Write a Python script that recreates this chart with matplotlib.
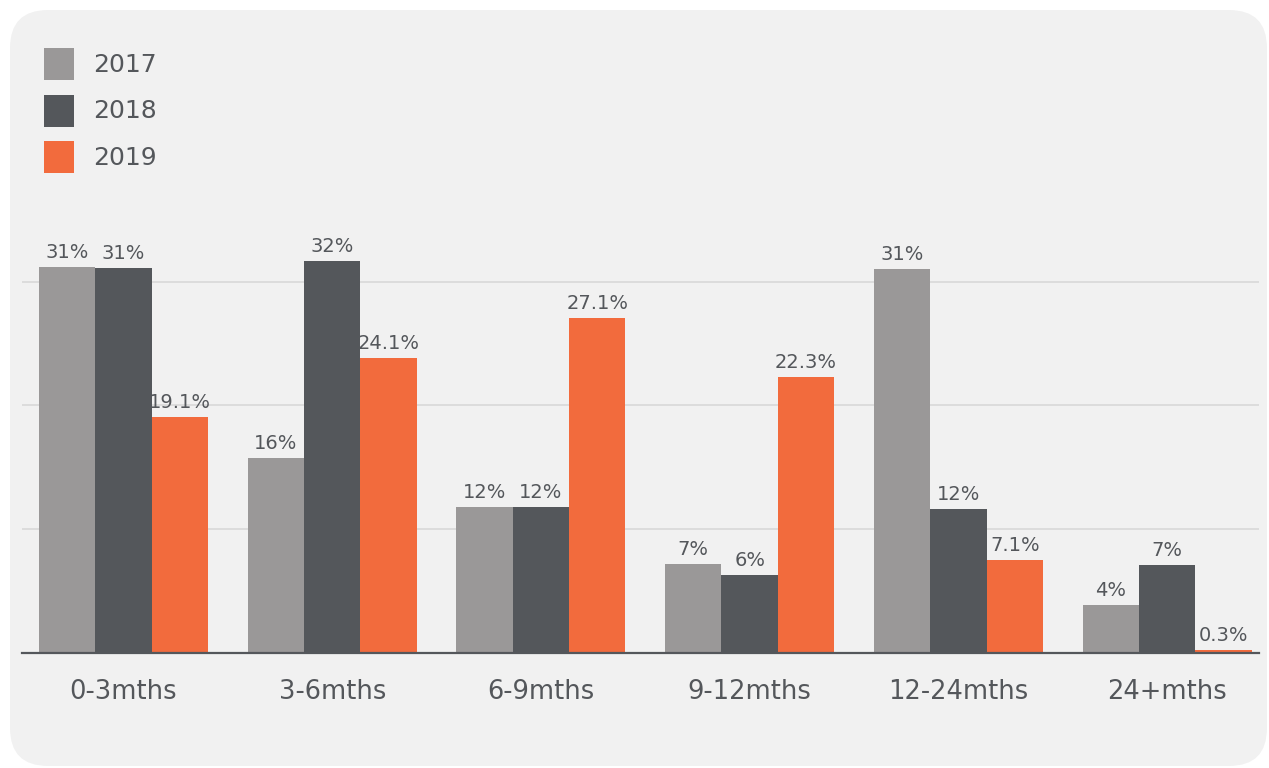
import matplotlib.pyplot as plt
from matplotlib.patches import FancyBboxPatch, Rectangle
import numpy as np

categorias = ['0-3mths', '3-6mths', '6-9mths', '9-12mths', '12-24mths', '24+mths']
anios = ['2017', '2018', '2019']
valores = {
    '2017': [31.2, 15.75, 11.8, 7.2, 31.0, 3.9],
    '2018': [31.1, 31.7, 11.8, 6.3, 11.6, 7.1],
    '2019': [19.06, 23.8, 27.1, 22.3, 7.5, 0.25],
}
etiquetas = {
    '2017': ['31%', '16%', '12%', '7%', '31%', '4%'],
    '2018': ['31%', '32%', '12%', '6%', '12%', '7%'],
    '2019': ['19.1%', '24.1%', '27.1%', '22.3%', '7.1%', '0.3%'],
}
colores = {'2017': '#9a9898', '2018': '#54575b', '2019': '#f26b3d'}

texto = '#54575b'
plt.rcParams['font.family'] = ['DejaVu Sans']

W, H = 1269, 768
fig = plt.figure(figsize=(W / 100, H / 100), dpi=100)
fig.patch.set_facecolor('white')

# panel gris de fondo
fondo = FancyBboxPatch((10 / W, 2 / H), (W - 12) / W, (H - 12) / H,
                       boxstyle='round,pad=0,rounding_size=0.03',
                       transform=fig.transFigure, facecolor='#f1f1f1',
                       edgecolor='none', zorder=-5, mutation_aspect=W / H)
fig.patches.append(fondo)

ax = fig.add_axes([22 / W, (H - 653) / H, (1259 - 22) / W, 35 * 12.38 / H])
ax.set_facecolor('none')

x = np.arange(len(categorias))
ancho = 0.27
for i, anio in enumerate(anios):
    pos = x + (i - 1) * ancho
    barras = ax.bar(pos, valores[anio], ancho, color=colores[anio], zorder=3)
    for b, et in zip(barras, etiquetas[anio]):
        ax.annotate(et, (b.get_x() + b.get_width() / 2, b.get_height()),
                    xytext=(0, 5), textcoords='offset pixels',
                    ha='center', va='bottom', fontsize=14, color=texto,
                    annotation_clip=False)

ax.set_xlim(-0.486, 5.44)
ax.set_ylim(0, 35)
ax.set_yticks([10, 20, 30])
ax.yaxis.grid(True, color='#d8d8d8', linewidth=1.2, zorder=0)
ax.tick_params(axis='y', left=False, labelleft=False)
ax.set_xticks(x)
ax.set_xticklabels(categorias, fontsize=18.5, color=texto)
ax.tick_params(axis='x', length=0, pad=19)
for lado in ['top', 'right', 'left']:
    ax.spines[lado].set_visible(False)
ax.spines['bottom'].set_color('#54575b')
ax.spines['bottom'].set_linewidth(1.6)
ax.spines['bottom'].set_zorder(4)

# leyenda
for i, anio in enumerate(anios):
    y0 = 48 + i * 46.5
    fig.patches.append(Rectangle((44 / W, (H - y0 - 32) / H), 30 / W, 32 / H,
                                 transform=fig.transFigure,
                                 facecolor=colores[anio], edgecolor='none'))
    fig.text(93 / W, (H - y0 - 24) / H, anio, fontsize=18, color=texto,
             va='baseline', ha='left')

fig.savefig('out.png', dpi=100)
